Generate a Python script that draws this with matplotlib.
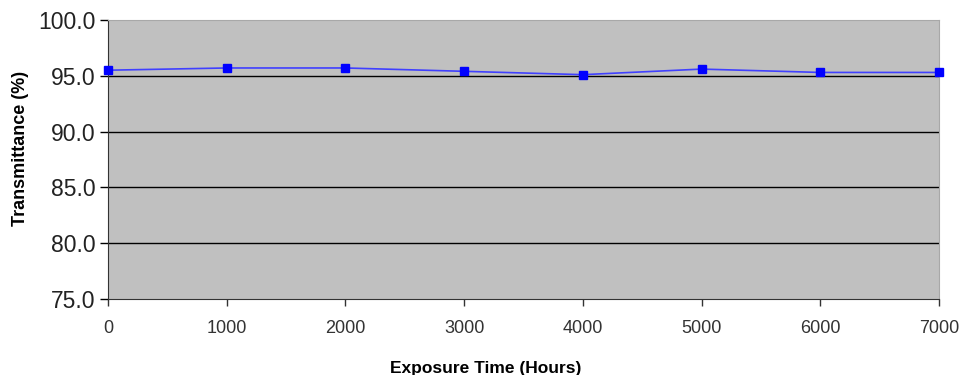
import matplotlib
matplotlib.use("Agg")
from matplotlib import pyplot as plt

plt.rcParams['font.family'] = ['Liberation Sans', 'DejaVu Sans']

hours = [0, 1000, 2000, 3000, 4000, 5000, 6000, 7000]
transmittance = [95.5, 95.7, 95.7, 95.4, 95.1, 95.6, 95.3, 95.3]
y_ticks = [75.0, 80.0, 85.0, 90.0, 95.0, 100.0]

fig = plt.figure(figsize=(9.66, 3.75), dpi=100)
ax = fig.add_axes([0.1118, 0.2027, 0.8602, 0.744])
ax.set_facecolor("#C0C0C0")

for yv in y_ticks[1:-1]:
    ax.axhline(yv, color="black", lw=1.0, zorder=1)

ax.plot(hours, transmittance, color="#4040FF", lw=1.2, marker="s",
        markersize=6, markerfacecolor="#0000FF", markeredgecolor="#0000FF",
        zorder=3, clip_on=False)

ax.set_xlim(0, 7000)
ax.set_ylim(75, 100)
ax.set_xticks(hours)
ax.set_xticklabels([str(h) for h in hours], fontsize=13, color="#333333")
ax.set_yticks(y_ticks)
ax.set_yticklabels(["%.1f" % v for v in y_ticks], fontsize=16.5, color="#222222")
ax.tick_params(axis="x", direction="out", length=5, width=1, pad=10, colors="#333333")
ax.tick_params(axis="y", direction="out", length=6, width=1, pad=3)

ax.spines["left"].set_color("#333333")
ax.spines["bottom"].set_color("#333333")
ax.spines["top"].set_color("#A8A8A8")
ax.spines["right"].set_color("#A8A8A8")

ax.set_xlabel("Exposure Time (Hours)", fontsize=12.5, fontweight="bold")
ax.xaxis.set_label_coords(0.455, -0.222)
ax.set_ylabel("Transmittance (%)", fontsize=13, fontweight="bold")
ax.yaxis.set_label_coords(-0.095, 0.54)

fig.savefig("out.png", dpi=100)
